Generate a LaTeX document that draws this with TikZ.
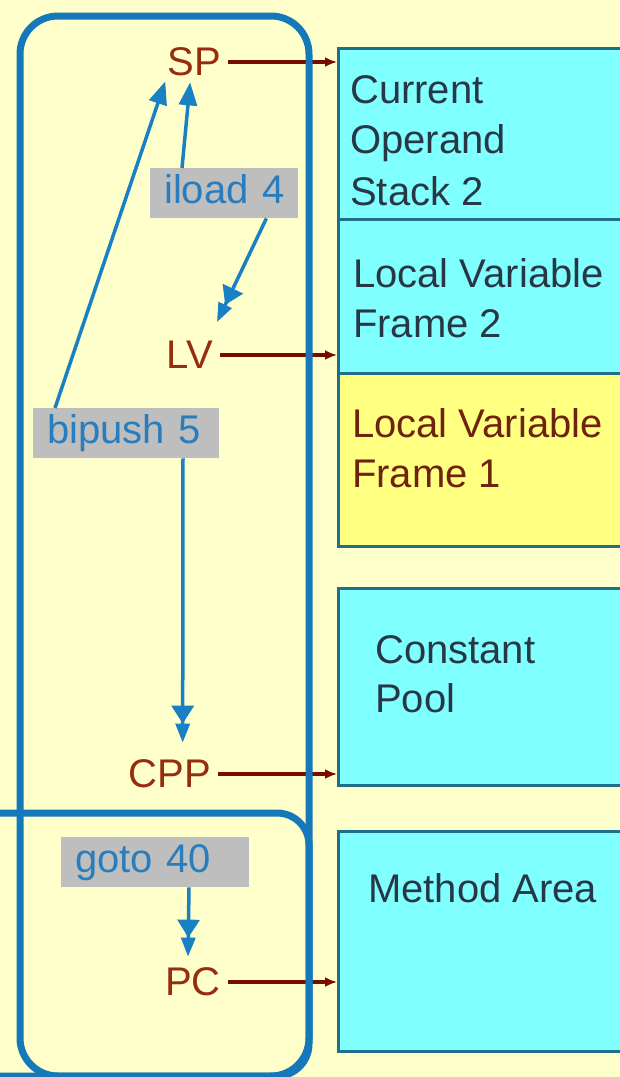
\documentclass[tikz,border=0pt]{standalone}
\usepackage{fontspec}
\setmainfont{Liberation Sans}
\usetikzlibrary{arrows.meta,calc}

\definecolor{paper}{RGB}{255,255,204}
\definecolor{framec}{RGB}{20,120,185}
\definecolor{flowc}{RGB}{26,128,196}
\definecolor{regc}{RGB}{150,45,15}
\definecolor{ptrc}{RGB}{120,10,0}
\definecolor{boxedge}{RGB}{30,110,140}
\definecolor{cyanfill}{RGB}{128,255,255}
\definecolor{yellowfill}{RGB}{255,255,128}
\definecolor{tagfill}{RGB}{190,190,190}
\definecolor{tagtext}{RGB}{40,125,190}
\definecolor{memtext}{RGB}{40,55,70}
\definecolor{oldtext}{RGB}{110,35,15}

\begin{document}
\begin{tikzpicture}[x=1pt,y=-1pt,
  every node/.style={font=\fontsize{40}{50}\selectfont},
  frame/.style={draw=framec,line width=7pt},
  membox/.style={draw=boxedge,line width=3pt,anchor=north west,minimum width=330pt,inner sep=0pt},
  reg/.style={text=regc,inner sep=0pt,anchor=east},
  memlabel/.style={text=memtext,anchor=base west,inner sep=0pt},
  tag/.style={fill=tagfill,text=tagtext,anchor=north west,align=left,inner xsep=14pt,inner ysep=0pt,
    minimum height=50pt,text height=30pt,text depth=10pt},
  ptr/.style={draw=ptrc,line width=4pt,shorten <=7pt,-{Latex[length=12pt,width=10pt]}},
  flow/.style={draw=flowc,line width=3.5pt,-{Triangle[length=18pt,width=22pt]Triangle[length=19pt,width=14pt]}},
  flowup/.style={draw=flowc,line width=3.5pt,-{Triangle[length=23pt,width=18pt]}},
]
\useasboundingbox (0,0) rectangle (620,1077);
\fill[paper] (0,0) rectangle (620,1077);
\clip (0,0) rectangle (620,1077);

% memory areas on the right
\node[membox,fill=cyanfill,minimum height=171pt] (stack) at (337,47) {};
\node[membox,fill=cyanfill,minimum height=154pt] (lvf2) at (337,218) {};
\node[membox,fill=yellowfill,minimum height=173pt] (lvf1) at (337,372) {};
\node[membox,fill=cyanfill,minimum height=197pt] (pool) at (337,587) {};
\node[membox,fill=cyanfill,minimum height=220pt] (method) at (337,830) {};

\node[memlabel] (stackA) at (350,103) {Current};
\node[memlabel] (stackB) at (350,153) {Operand};
\node[memlabel] (stackC) at (350,205) {Stack 2};
\node[memlabel] (lvf2A) at (353,287) {Local Variable};
\node[memlabel] (lvf2B) at (353,337) {Frame 2};
\node[memlabel,text=oldtext] (lvf1A) at (352,437) {Local Variable};
\node[memlabel,text=oldtext] (lvf1B) at (352,487) {Frame 1};
\node[memlabel] (poolA) at (375,663) {Constant};
\node[memlabel] (poolB) at (375,712) {Pool};
\node[memlabel] (methodA) at (368,902) {Method Area};

% registers
\node[reg] (sp) at (221,62) {SP};
\node[reg] (lv) at (213,355) {LV};
\node[reg] (cpp) at (211,774) {CPP};
\node[reg] (pc) at (221,982) {PC};

% register pointers into memory
\draw[ptr] (sp.east) -- (sp.east -| stack.west);
\draw[ptr] (lv.east) -- (lv.east -| lvf2.west);
\draw[ptr] (cpp.east) -- (cpp.east -| pool.west);
\draw[ptr] (pc.east) -- (pc.east -| method.west);

% register file outlines
\draw[frame,rounded corners=38pt] (20,16) rectangle (309,1076);
\draw[frame,rounded corners=32pt] (-30,813) -- (309,813) -- (309,1076) -- (-30,1076);

% instructions
\node[tag,minimum width=148pt,text width=120pt] (iload) at (150,168) {\mbox{iload 4}};
\node[tag,minimum width=186pt,text width=158pt] (bipush) at (33,408) {\mbox{bipush 5}};
\node[tag,minimum width=188pt,text width=160pt] (goto) at (61,837) {\mbox{goto 40}};

% effects of the instructions
\draw[flowup] ($(bipush.north west)+(22,0)$) -- ($(sp.south west)+(-2,5)$);
\draw[flowup] ($(iload.north west)+(32,0)$) -- ($(sp.south)+(-4,6)$);
\draw[flow] ($(iload.south east)+(-32,0)$) -- ($(lv.north east)+(4,-19)$);
\draw[flow] ($(bipush.south west)+(150,0)$) -- ($(cpp.north)+(13,-17)$);
\draw[flow] ($(goto.south west)+(128,0)$) -- ($(pc.north)+(-5,-11)$);
\end{tikzpicture}
\end{document}
